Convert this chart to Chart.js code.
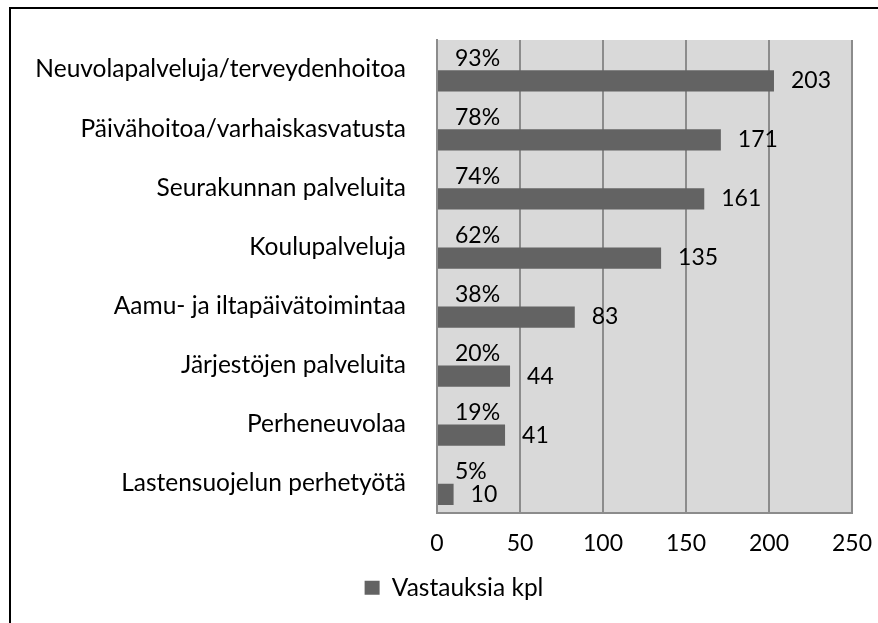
<!DOCTYPE html>
<html>
<head>
<meta charset="utf-8">
<script src="https://cdn.jsdelivr.net/npm/chart.js@4/dist/chart.umd.min.js"></script>
<style>
  html, body { margin: 0; padding: 0; background: #fff; }
  #wrap { position: relative; width: 878px; height: 623px; }
</style>
</head>
<body>
<div id="wrap"><canvas id="chart" width="878" height="623"></canvas></div>
<script>
const categories = [
    'Neuvolapalveluja/terveydenhoitoa',
    'Päivähoitoa/varhaiskasvatusta',
    'Seurakunnan palveluita',
    'Koulupalveluja',
    'Aamu- ja iltapäivätoimintaa',
    'Järjestöjen palveluita',
    'Perheneuvolaa',
    'Lastensuojelun perhetyötä'
];
const counts = [203, 171, 161, 135, 83, 44, 41, 10];
const percents = [93, 78, 74, 62, 38, 20, 19, 5];
const xTicks = [0, 50, 100, 150, 200, 250];
const seriesName = 'Vastauksia kpl';

const FONT = 'Lato';
const labelFont = { family: FONT, size: 24.5 };
const numFont = { family: FONT, size: 23 };
const barColor = '#636363';
const gridColor = '#8c8c8c';

// plot background + outer frame
const backdrop = {
    id: 'backdrop',
    beforeDraw(chart) {
        const { ctx, chartArea: a } = chart;
        ctx.save();
        ctx.fillStyle = '#d9d9d9';
        ctx.fillRect(a.left, a.top, a.right - a.left, a.bottom - a.top);
        ctx.fillStyle = '#000';
        ctx.fillRect(9, 7, 2, chart.height);
        ctx.fillRect(9, 7, chart.width, 2);
        ctx.restore();
    }
};

// legend sits a bit right of the canvas centre
const legendShift = {
    id: 'legendShift',
    afterLayout(chart) {
        const lg = chart.legend;
        if (!lg) return;
        lg.left += 28;
        lg.right += 28;
    }
};

// percent labels near zero, counts past bar end
const barLabels = {
    id: 'barLabels',
    afterDatasetsDraw(chart) {
        const ctx = chart.ctx;
        const x0 = chart.scales.x.getPixelForValue(0);
        ctx.save();
        ctx.font = `${numFont.size}px ${FONT}`;
        ctx.fillStyle = '#000';
        ctx.textAlign = 'left';
        ctx.textBaseline = 'middle';
        chart.getDatasetMeta(0).data.forEach((el, i) => {
            ctx.fillText(percents[i] + '%', x0 + 18, el.y);
        });
        chart.getDatasetMeta(1).data.forEach((el, i) => {
            ctx.fillText(String(counts[i]), el.x + 17, el.y);
        });
        ctx.restore();
    }
};

new Chart(document.getElementById('chart'), {
    type: 'bar',
    data: {
        labels: categories,
        datasets: [{
            label: 'Osuus',
            data: percents.map(p => p / 100),
            backgroundColor: 'rgba(0,0,0,0)',
            categoryPercentage: 0.765,
            barPercentage: 0.94
        }, {
            label: seriesName,
            data: counts,
            backgroundColor: barColor,
            categoryPercentage: 0.765,
            barPercentage: 0.94
        }]
    },
    options: {
        indexAxis: 'y',
        responsive: false,
        animation: false,
        devicePixelRatio: 1,
        layout: { padding: { top: 40, right: 26, left: 0, bottom: 13 } },
        plugins: {
            legend: {
                position: 'bottom',
                labels: {
                    boxWidth: 15,
                    boxHeight: 14,
                    color: '#000',
                    font: labelFont,
                    filter: item => item.datasetIndex === 1
                }
            },
            tooltip: { enabled: false }
        },
        scales: {
            x: {
                min: 0,
                max: 250,
                afterBuildTicks: s => { s.ticks = xTicks.map(v => ({ value: v })); },
                ticks: { color: '#000', font: numFont, padding: 17 },
                grid: { color: gridColor, lineWidth: 2, drawTicks: false },
                border: { display: true, color: gridColor, width: 2 },
                afterFit: s => { s.height = 53; s.paddingLeft = 0; s.paddingRight = 0; }
            },
            y: {
                ticks: { color: '#000', font: labelFont, padding: 31 },
                grid: { display: false, drawTicks: false },
                border: { display: true, color: gridColor, width: 2 },
                afterFit: s => { s.width = 437; s.paddingTop = 0; s.paddingBottom = 0; }
            }
        }
    },
    plugins: [backdrop, legendShift, barLabels]
});
</script>
</body>
</html>
